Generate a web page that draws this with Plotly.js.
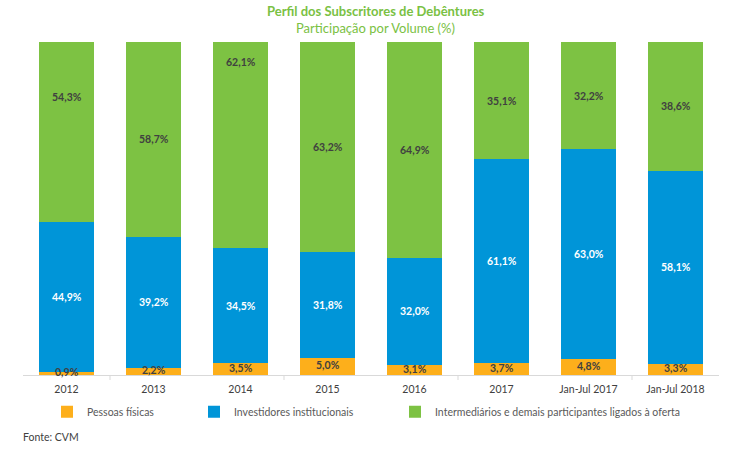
<!DOCTYPE html>
<html><head><meta charset="utf-8">
<script src="https://cdn.plot.ly/plotly-3.0.1.min.js"></script>
<style>html,body{margin:0;padding:0;background:#fff}#chart{width:742px;height:450px}</style>
</head><body><div id="chart"></div>
<script>
const categories = ['2012','2013','2014','2015','2016','2017','Jan-Jul 2017','Jan-Jul 2018'];
const pessoasFisicas = [0.9, 2.2, 3.5, 5.0, 3.1, 3.7, 4.8, 3.3];
const investidoresInstitucionais = [44.9, 39.2, 34.5, 31.8, 32.0, 61.1, 63.0, 58.1];
const intermediarios = [54.3, 58.7, 62.1, 63.2, 64.9, 35.1, 32.2, 38.6];
const seriesNames = ['Pessoas físicas','Investidores institucionais','Intermediários e demais participantes ligados à oferta'];

// label placement tweaks (in % units) for green labels as in the original
const greenLabelShift = [10.5, 0, 25, 0, 0, 0, 0, 0];

const colors = ['#FDAF1B', '#0095D8', '#7DC243'];
const FONT = 'Lato, "Open Sans", sans-serif';
const fmt = v => v.toFixed(1).replace('.', ',') + '%';

const series = [pessoasFisicas, investidoresInstitucionais, intermediarios];
const legends = ['legend', 'legend2', 'legend3'];
const traces = series.map((vals, i) => ({
  type: 'bar', x: categories, y: vals, name: seriesNames[i],
  marker: {color: colors[i], line: {width: 0}},
  legend: legends[i], hoverinfo: 'none'
}));

const annotations = [];
categories.forEach((c, k) => {
  const p = pessoasFisicas[k], b = investidoresInstitucionais[k], g = intermediarios[k];
  annotations.push({x: k, y: p / 2 + 0.4, text: '<b>' + fmt(p) + '</b>', showarrow: false,
    font: {family: FONT, size: 10.5, color: '#404040'}, yanchor: 'middle'});
  annotations.push({x: k, y: p + b / 2, text: '<b>' + fmt(b) + '</b>', showarrow: false,
    font: {family: FONT, size: 10.5, color: '#ffffff'}, yanchor: 'middle'});
  annotations.push({x: k, y: p + b + g / 2 + greenLabelShift[k], text: '<b>' + fmt(g) + '</b>', showarrow: false,
    font: {family: FONT, size: 10.5, color: '#404040'}, yanchor: 'middle'});
});
annotations.push({xref: 'paper', yref: 'paper', x: -0.003, y: -0.185, xanchor: 'left', yanchor: 'middle',
  text: 'Fonte: CVM', showarrow: false, font: {family: FONT, size: 10.5, color: '#404040'}});
annotations.push({xref: 'paper', yref: 'paper', x: 0.507, y: 1.093, xanchor: 'center', yanchor: 'middle',
  text: '<b>Perfil dos Subscritores de Debêntures</b>', showarrow: false, font: {family: FONT, size: 13, color: '#7AC143'}});
annotations.push({xref: 'paper', yref: 'paper', x: 0.507, y: 1.041, xanchor: 'center', yanchor: 'middle',
  text: 'Participação por Volume (%)', showarrow: false, font: {family: FONT, size: 13, color: '#7AC143'}});

const legendBase = {orientation: 'h', yref: 'container', y: 0.085, yanchor: 'middle', xref: 'container',
  xanchor: 'left', font: {family: FONT, size: 10.5, color: '#595959'}, itemwidth: 30,
  bgcolor: 'rgba(0,0,0,0)', traceorder: 'normal'};

const tickShapes = [0.5, 2.5, 4.5, 6.5].map(v => ({type: 'line', xref: 'x', yref: 'paper',
  ysizemode: 'pixel', yanchor: 0, x0: v, x1: v, y0: 0, y1: -5, line: {color: '#D9D9D9', width: 1}}));

const layout = {
  width: 742, height: 450,
  margin: {l: 23, r: 23, t: 42, b: 75},
  paper_bgcolor: '#ffffff', plot_bgcolor: '#ffffff',
  barmode: 'stack', bargap: 0.37,
  xaxis: {type: 'category', range: [-0.5, 7.5], showline: true, linecolor: '#D9D9D9', linewidth: 1, ticks: '',
    ticklabelstandoff: 4,
    tickfont: {family: FONT, size: 10.5, color: '#404040', weight: 400}, fixedrange: true, showgrid: false, zeroline: false},
  yaxis: {range: [0, 100], visible: false, fixedrange: true},
  showlegend: true,
  legend: Object.assign({}, legendBase, {x: 47 / 742}),
  legend2: Object.assign({}, legendBase, {x: 194 / 742}),
  legend3: Object.assign({}, legendBase, {x: 395 / 742}),
  annotations: annotations,
  shapes: tickShapes
};

Plotly.newPlot('chart', traces, layout, {displayModeBar: false, staticPlot: true});
</script></body></html>
